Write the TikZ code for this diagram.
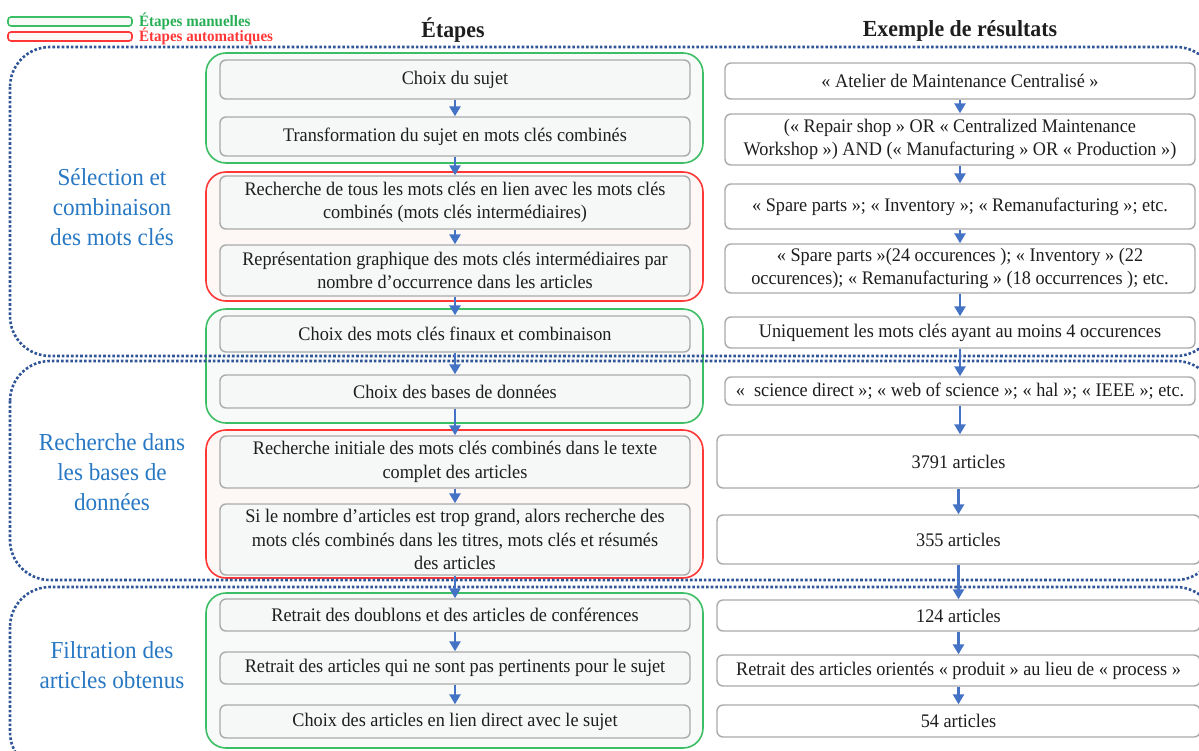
\documentclass[tikz,border=0pt]{standalone}
\usepackage{fontspec}
\setmainfont[FakeStretch=0.95]{Liberation Serif}
\usetikzlibrary{arrows.meta,positioning}

\definecolor{bleusection}{RGB}{47,85,151}
\definecolor{bleutitre}{RGB}{40,120,195}
\definecolor{bleufleche}{RGB}{68,114,196}
\definecolor{vert}{RGB}{60,190,100}
\definecolor{vertlegende}{RGB}{40,175,85}
\definecolor{rouge}{RGB}{255,55,55}
\definecolor{fondvert}{RGB}{248,250,249}
\definecolor{fondrouge}{RGB}{253,247,246}
\definecolor{grisbord}{RGB}{170,170,170}
\definecolor{grisfond}{RGB}{246,247,247}
\definecolor{texte}{RGB}{30,30,30}

\tikzset{
  etape/.style={draw=grisbord, fill=grisfond, rounded corners=3pt, line width=0.7pt,
    minimum width=235pt, inner sep=1pt, align=center, text=texte,
    font=\fontsize{9.6}{11.8}\selectfont},
  resultat/.style={etape, fill=white},
  groupe/.style={line width=0.8pt, rounded corners=10pt},
  section/.style={draw=bleusection, line width=1.3pt, densely dotted, rounded corners=20pt},
  titresection/.style={align=center, text=bleutitre, font=\fontsize{12.2}{15}\selectfont},
  entete/.style={text=texte, font=\bfseries\fontsize{11.5}{13}\selectfont},
  legende/.style={rounded corners=1.5pt, line width=0.8pt, minimum width=62pt,
    minimum height=4.5pt, inner sep=0pt}
}

\begin{document}
\begin{tikzpicture}[x=0.5pt, y=-0.5pt]
    % --- CADRE ---
    \useasboundingbox (0,0) rectangle (1199,750);

    % --- LEGENDE ---
    \node[legende, draw=vert, fill=fondvert] (legman) at (70,21.5) {};
    \node[legende, draw=rouge, fill=fondrouge] (legauto) at (70,36.5) {};
    \node[right=3pt of legman, inner sep=0pt, text=vertlegende, font=\bfseries\fontsize{7.9}{9}\selectfont] (txtman) {Étapes manuelles};
    \node[right=3pt of legauto, inner sep=0pt, text=rouge, font=\bfseries\fontsize{7.9}{9}\selectfont] (txtauto) {Étapes automatiques};

    % --- EN-TETES ---
    \node[entete] (hetapes) at (453,30) {Étapes};
    \node[entete] (hresultats) at (960,31) {Exemple de résultats};

    % --- GROUPES (manuel / automatique) ---
    \draw[groupe, draw=vert, fill=fondvert] (206,53) rectangle (703,163);
    \draw[groupe, draw=rouge, fill=fondrouge] (206,172) rectangle (703,301);
    \draw[groupe, draw=vert, fill=fondvert] (206,309) rectangle (703,423);
    \draw[groupe, draw=rouge, fill=fondrouge] (206,430) rectangle (703,578);
    \draw[groupe, draw=vert, fill=fondvert] (206,593) rectangle (703,748);

    % --- SECTIONS (pointilles, ouvertes a droite) ---
    \draw[section] (10,47) rectangle (1216,356);
    \draw[section] (10,361) rectangle (1216,580);
    \draw[section] (10,587) rectangle (1216,772);

    \node[titresection] (selection) at (112,207) {Sélection et\\combinaison\\des mots clés};
    \node[titresection] (recherche) at (112,472) {Recherche dans\\les bases de\\données};
    \node[titresection] (filtration) at (112,665) {Filtration des\\articles obtenus};

    % --- ETAPES (colonne de gauche) ---
    \node[etape, minimum height=19.5pt] (b1) at (455,79.5) {Choix du sujet};
    \node[etape, minimum height=19.5pt] (b2) at (455,136.5) {Transformation du sujet en mots clés combinés};
    \node[etape, minimum height=26.5pt] (b3) at (455,202.5) {Recherche de tous les mots clés en lien avec les mots clés\\combinés (mots clés intermédiaires)};
    \node[etape, minimum height=25.5pt] (b4) at (455,270.5) {Représentation graphique des mots clés intermédiaires par\\nombre d’occurrence dans les articles};
    \node[etape, minimum height=18pt] (b5) at (455,334) {Choix des mots clés finaux et combinaison};
    \node[etape, minimum height=16.5pt] (b6) at (455,391.5) {Choix des bases de données};
    \node[etape, minimum height=26pt] (b7) at (455,462) {Recherche initiale des mots clés combinés dans le texte\\complet des articles};
    \node[etape, minimum height=35.5pt] (b8) at (455,539.5) {Si le nombre d’articles est trop grand, alors recherche des\\mots clés combinés dans les titres, mots clés et résumés\\des articles};
    \node[etape, minimum height=16pt] (b9) at (455,615) {Retrait des doublons et des articles de conférences};
    \node[etape, minimum height=16pt] (b10) at (455,668) {Retrait des articles qui ne sont pas pertinents pour le sujet};
    \node[etape, minimum height=16.5pt] (b11) at (455,721.5) {Choix des articles en lien direct avec le sujet};

    % --- RESULTATS (colonne de droite) ---
    \node[resultat, minimum height=18pt] (r1) at (960,81) {« Atelier de Maintenance Centralisé »};
    \node[resultat, minimum height=25.5pt] (r2) at (960,139.5) {(« Repair shop » OR « Centralized Maintenance\\Workshop ») AND (« Manufacturing » OR « Production »)};
    \node[resultat, minimum height=22.5pt] (r3) at (960,206.5) {« Spare parts »; « Inventory »; « Remanufacturing »; etc.};
    \node[resultat, minimum height=24.5pt] (r4) at (960,268.5) {« Spare parts »(24 occurences ); « Inventory » (22\\occurences); « Remanufacturing » (18 occurrences ); etc.};
    \node[resultat, minimum height=15.5pt] (r5) at (960,332.5) {Uniquement les mots clés ayant au moins 4 occurences};
    \node[resultat, minimum height=14pt] (r6) at (960,391) {«\ \ science direct »; « web of science »; « hal »; « IEEE »; etc.};
    \node[resultat, minimum width=241.5pt, minimum height=26.5pt] (r7) at (958.5,461.5) {3791 articles};
    \node[resultat, minimum width=241.5pt, minimum height=24.5pt] (r8) at (958.5,539.5) {355 articles};
    \node[resultat, minimum width=241.5pt, minimum height=15.5pt] (r9) at (958.5,615.5) {124 articles};
    \node[resultat, minimum width=241.5pt, minimum height=15.5pt] (r10) at (958.5,670.5) {Retrait des articles orientés « produit » au lieu de « process »};
    \node[resultat, minimum width=241.5pt, minimum height=16pt] (r11) at (958.5,721) {54 articles};

    % --- FLECHES ---
    \begin{scope}[bleufleche, line width=1.4pt, -{Triangle[width=5.5pt,length=5pt]}]
        \draw (b1) -- (b2);
        \draw (b2) -- (b3);
        \draw (b3) -- (b4);
        \draw (b4) -- (b5);
        \draw (b5) -- (b6);
        \draw (b6) -- (b7);
        \draw (b7) -- (b8);
        \draw (b8) -- (b9);
        \draw (b9) -- (b10);
        \draw (b10) -- (b11);

        \draw (r1) -- (r2);
        \draw (r2) -- (r3);
        \draw (r3) -- (r4);
        \draw (r4) -- (r5);
        \draw (r5) -- (r6);
        \draw (r6.south) -- (r6.south |- r7.north);
        \draw (r7) -- (r8);
        \draw (r8) -- (r9);
        \draw (r9) -- (r10);
        \draw (r10) -- (r11);
    \end{scope}

\end{tikzpicture}
\end{document}
